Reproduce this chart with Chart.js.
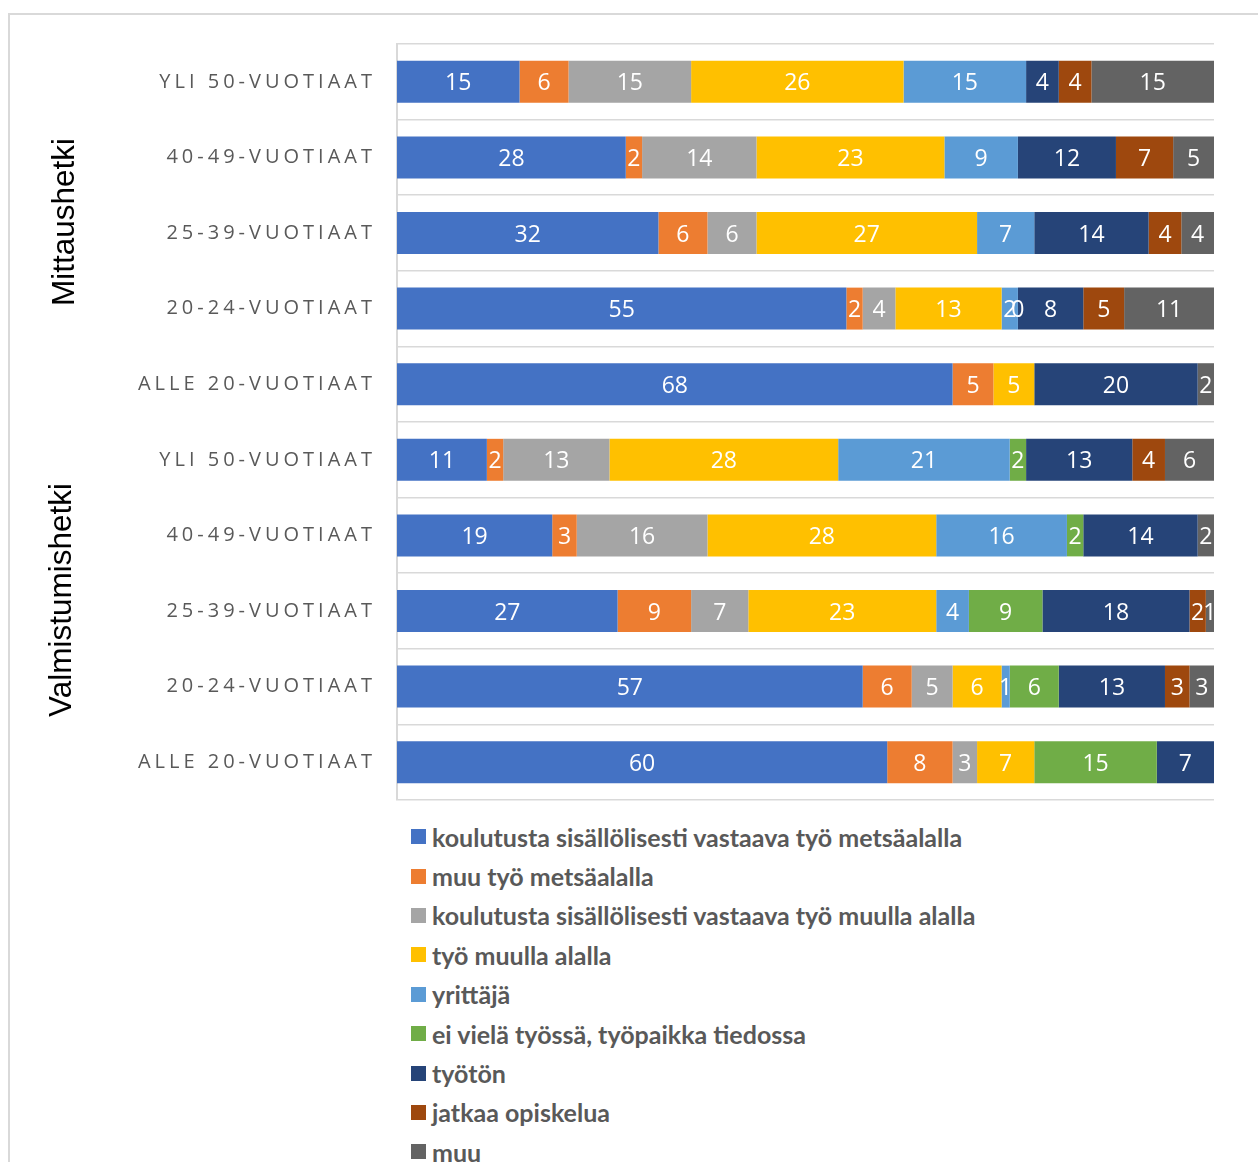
<!DOCTYPE html>
<html lang="fi">
<head>
<meta charset="utf-8">
<title>Työllistyminen ikäryhmittäin</title>
<script src="https://cdn.jsdelivr.net/npm/chart.js@4.4.1/dist/chart.umd.min.js"></script>
<style>
  html, body { margin: 0; padding: 0; background: #fff; overflow: hidden; }
  body { width: 1258px; height: 1162px; position: relative; }
  .frame {
    position: absolute; left: 8px; top: 13px;
    width: 1300px; height: 1200px;
    border: 2px solid #d9d9d9; box-sizing: border-box;
  }
  .chart-box { position: absolute; left: 0; top: 0; width: 1258px; height: 810px; }
  #legend {
    position: absolute; left: 411px; top: 817px;
    margin: 0; padding: 0; list-style: none;
    font-family: Lato, "Open Sans", sans-serif; font-weight: 700;
    font-size: 25px; color: #595959;
  }
  #legend li { height: 39.4px; display: flex; align-items: center; white-space: nowrap; }
  #legend .box { width: 15px; height: 15px; margin-right: 6px; flex: none; }
</style>
</head>
<body>
<div class="frame"></div>
<div class="chart-box"><canvas id="chart"></canvas></div>
<ul id="legend"></ul>

<script>
// row labels, top to bottom: first five measured now, last five at graduation
const categories = [
  'YLI 50-VUOTIAAT', '40-49-VUOTIAAT', '25-39-VUOTIAAT', '20-24-VUOTIAAT', 'ALLE 20-VUOTIAAT',
  'YLI 50-VUOTIAAT', '40-49-VUOTIAAT', '25-39-VUOTIAAT', '20-24-VUOTIAAT', 'ALLE 20-VUOTIAAT'
];
const groups = ['Mittaushetki', 'Valmistumishetki'];

const seriesNames = [
  'koulutusta sisällölisesti vastaava työ metsäalalla',
  'muu työ metsäalalla',
  'koulutusta sisällölisesti vastaava työ muulla alalla',
  'työ muulla alalla',
  'yrittäjä',
  'ei vielä työssä, työpaikka tiedossa',
  'työtön',
  'jatkaa opiskelua',
  'muu'
];

// percentages per row (null = no share in that row)
const vastaavaMetsa   = [15, 28, 32, 55, 68, 11, 19, 27, 57, 60];
const muuMetsa        = [6, 2, 6, 2, 5, 2, 3, 9, 6, 8];
const vastaavaMuulla  = [15, 14, 6, 4, null, 13, 16, 7, 5, 3];
const tyoMuulla       = [26, 23, 27, 13, 5, 28, 28, 23, 6, 7];
const yrittaja        = [15, 9, 7, 2, null, 21, 16, 4, 1, null];
const tyopaikkaTiedossa = [null, null, null, 0, null, 2, 2, 9, 6, 15];
const tyoton          = [4, 12, 14, 8, 20, 13, 14, 18, 13, 7];
const opiskelu        = [4, 7, 4, 5, null, 4, null, 2, 3, null];
const muu             = [15, 5, 4, 11, 2, 6, 2, 1, 3, null];

const seriesValues = [vastaavaMetsa, muuMetsa, vastaavaMuulla, tyoMuulla, yrittaja,
                      tyopaikkaTiedossa, tyoton, opiskelu, muu];
const colors = ['#4472C4', '#ED7D31', '#A5A5A5', '#FFC000', '#5B9BD5',
                '#70AD47', '#264478', '#9E480E', '#636363'];

// white numbers in the middle of each segment
const segmentLabels = {
  id: 'segmentLabels',
  afterDatasetsDraw(chart) {
    const ctx = chart.ctx;
    ctx.save();
    ctx.font = '23px "Open Sans", sans-serif';
    ctx.fillStyle = '#ffffff';
    ctx.textAlign = 'center';
    ctx.textBaseline = 'middle';
    chart.data.datasets.forEach((ds, i) => {
      const meta = chart.getDatasetMeta(i);
      meta.data.forEach((bar, j) => {
        const v = ds.data[j];
        if (v === null || v === undefined) return;
        ctx.fillText(String(v), (bar.x + bar.base) / 2, bar.y + 2);
      });
    });
    ctx.restore();
  }
};

// spaced-out row names and the rotated group titles on the left
const rowLabels = {
  id: 'rowLabels',
  afterDraw(chart) {
    const ctx = chart.ctx;
    const y = chart.scales.y;
    const spacing = 4;
    ctx.save();
    ctx.font = '20px "Open Sans", sans-serif';
    ctx.fillStyle = '#595959';
    ctx.textAlign = 'right';
    ctx.textBaseline = 'middle';
    ctx.letterSpacing = spacing + 'px';
    categories.forEach((label, i) => {
      ctx.fillText(label, 372 + spacing, y.getPixelForValue(i));
    });
    ctx.restore();

    ctx.save();
    ctx.font = '31.5px "Liberation Sans", Arial, sans-serif';
    ctx.fillStyle = '#000000';
    ctx.textAlign = 'center';
    ctx.textBaseline = 'alphabetic';
    const half = categories.length / 2;
    groups.forEach((title, g) => {
      const top = y.getPixelForValue(g * half);
      const bottom = y.getPixelForValue(g * half + half - 1);
      const mid = (top + bottom) / 2 - 11;
      ctx.save();
      ctx.translate(g === 0 ? 74 : 71, mid);
      ctx.rotate(-Math.PI / 2);
      ctx.fillText(title, 0, 0);
      ctx.restore();
    });
    ctx.restore();
  }
};

const chart = new Chart(document.getElementById('chart'), {
  type: 'bar',
  data: {
    labels: categories,
    datasets: seriesNames.map((name, i) => ({
      label: name,
      data: seriesValues[i],
      backgroundColor: colors[i],
      borderWidth: 0,
      barPercentage: 0.555,
      categoryPercentage: 1
    }))
  },
  options: {
    indexAxis: 'y',
    responsive: true,
    maintainAspectRatio: false,
    animation: false,
    layout: { padding: { top: 44, right: 44, bottom: 10, left: 0 } },
    scales: {
      x: {
        stacked: true,
        min: 0,
        max: 100,
        display: false
      },
      y: {
        stacked: true,
        grid: { color: '#d9d9d9', lineWidth: 1.5, drawTicks: false, offset: true },
        border: { display: true, color: '#d9d9d9', width: 2 },
        ticks: { display: false },
        afterFit(scale) { scale.width = 397; }
      }
    },
    plugins: {
      legend: { display: false },
      tooltip: { enabled: false }
    }
  },
  plugins: [segmentLabels, rowLabels]
});

// legend listed one entry per line below the chart
const legendList = document.getElementById('legend');
chart.data.datasets.forEach(ds => {
  const li = document.createElement('li');
  const box = document.createElement('span');
  box.className = 'box';
  box.style.background = ds.backgroundColor;
  li.appendChild(box);
  li.appendChild(document.createTextNode(ds.label));
  legendList.appendChild(li);
});
</script>
</body>
</html>
